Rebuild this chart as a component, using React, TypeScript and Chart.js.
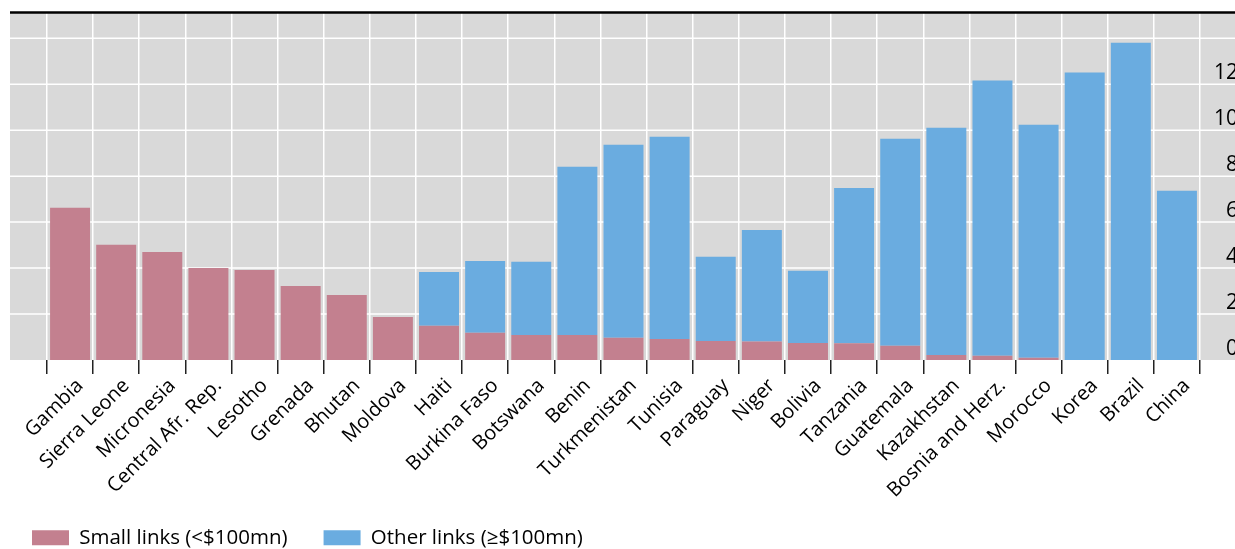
import React, { useEffect, useRef } from 'react';
import { Chart, registerables } from 'chart.js';

Chart.register(...registerables);

const categories = [
  'Gambia', 'Sierra Leone', 'Micronesia', 'Central Afr. Rep.', 'Lesotho', 'Grenada', 'Bhutan', 'Moldova',
  'Haiti', 'Burkina Faso', 'Botswana', 'Benin', 'Turkmenistan', 'Tunisia', 'Paraguay', 'Niger', 'Bolivia',
  'Tanzania', 'Guatemala', 'Kazakhstan', 'Bosnia and Herz.', 'Morocco', 'Korea', 'Brazil', 'China',
];
const smallLinks = [
  6.62, 5.01, 4.70, 4.00, 3.92, 3.22, 2.83, 1.87, 1.49, 1.19, 1.09, 1.09, 0.97, 0.91, 0.83, 0.80, 0.74,
  0.73, 0.62, 0.22, 0.19, 0.10, 0, 0, 0,
];
const otherLinks = [
  0, 0, 0, 0, 0, 0, 0, 0, 2.34, 3.12, 3.18, 7.32, 8.40, 8.81, 3.66, 4.86, 3.14,
  6.76, 9.01, 9.89, 11.97, 10.14, 12.51, 13.81, 7.36,
];
const seriesNames = ['Small links (<$100mn)', 'Other links (\u2265$100mn)'];
const yTickLabels = [0, 2, 4, 6, 8, 10, 12];
const yGridValues = [2, 4, 6, 8, 10, 12, 14];
const yMax = 15.1;

const FONT = "'Open Sans', 'Noto Sans', sans-serif";
const CANVAS_W = 1242;
const CANVAS_H = 558;
const BG_LEFT = 14;

const bgPlugin = {
  id: 'bgPlugin',
  beforeDraw(chart: any) {
    const { ctx, chartArea, scales } = chart;
    const y = scales.y;
    ctx.save();
    ctx.fillStyle = '#d9d9d9';
    ctx.fillRect(BG_LEFT, chartArea.top, chart.width - BG_LEFT, chartArea.bottom - chartArea.top);
    ctx.strokeStyle = '#ffffff';
    ctx.lineWidth = 1.5;
    yGridValues.forEach((v) => {
      const py = y.getPixelForValue(v);
      ctx.beginPath();
      ctx.moveTo(BG_LEFT, py);
      ctx.lineTo(chart.width, py);
      ctx.stroke();
    });
    ctx.restore();
  },
  afterDraw(chart: any) {
    const { ctx, chartArea } = chart;
    ctx.save();
    ctx.strokeStyle = '#000000';
    ctx.lineWidth = 2.5;
    ctx.beginPath();
    ctx.moveTo(BG_LEFT, chartArea.top - 0.5);
    ctx.lineTo(chart.width, chartArea.top - 0.5);
    ctx.stroke();
    ctx.restore();
  },
};

export default function App() {
  const ref = useRef<HTMLCanvasElement | null>(null);

  useEffect(() => {
    if (!ref.current) return;
    const chart = new Chart(ref.current, {
      type: 'bar',
      data: {
        labels: categories,
        datasets: [
          {
            label: seriesNames[0],
            data: smallLinks,
            backgroundColor: '#c3808f',
            borderWidth: 0,
            barPercentage: 0.867,
            categoryPercentage: 1,
            stack: 's',
          },
          {
            label: seriesNames[1],
            data: otherLinks,
            backgroundColor: '#6aace0',
            borderWidth: 0,
            barPercentage: 0.867,
            categoryPercentage: 1,
            stack: 's',
          },
        ],
      },
      options: {
        responsive: false,
        animation: false,
        devicePixelRatio: 1,
        layout: { padding: { top: 13, left: 0, right: 0, bottom: 0 } },
        plugins: {
          tooltip: { enabled: false },
          title: { display: false },
          legend: {
            display: true,
            position: 'bottom',
            align: 'start',
            labels: {
              boxWidth: 37,
              boxHeight: 15,
              padding: 36,
              color: '#000',
              font: { family: FONT, size: 20.5 },
            },
          },
        },
        scales: {
          x: {
            stacked: true,
            offset: true,
            grid: {
              display: true,
              offset: true,
              color: '#ffffff',
              lineWidth: 1.5,
              drawOnChartArea: true,
              drawTicks: true,
              tickLength: 14,
              tickColor: '#222',
              tickWidth: 1.5,
            },
            border: { display: false },
            ticks: {
              autoSkip: false,
              minRotation: 45,
              maxRotation: 45,
              padding: 0,
              labelOffset: 10,
              color: '#000',
              font: { family: FONT, size: 20 },
            },
            afterFit: (s: any) => {
              s.height = 131.5;
              s._computeLabelArea = () => undefined;
            },
          },
          y: {
            stacked: true,
            position: 'right',
            min: 0,
            max: yMax,
            grid: { display: false, drawTicks: false },
            border: { display: false },
            ticks: {
              stepSize: 2,
              crossAlign: 'far',
              padding: 14,
              labelOffset: -11,
              color: '#000',
              font: { family: FONT, size: 21 },
              callback: (v: any) => (yTickLabels.includes(Number(v)) ? String(v) : ''),
            },
            afterFit: (s: any) => {
              s.width = 38;
              s.paddingTop = 0;
              s.paddingBottom = 0;
            },
          },
          yL: {
            position: 'left',
            display: true,
            grid: { display: false, drawTicks: false },
            border: { display: false },
            ticks: { display: false },
            afterFit: (s: any) => {
              s.width = 51;
              s.paddingTop = 0;
              s.paddingBottom = 0;
            },
          },
        },
      },
      plugins: [bgPlugin],
    } as any);
    return () => chart.destroy();
  }, []);

  return (
    <div
      style={{
        position: 'fixed',
        left: 0,
        top: 0,
        width: 1235,
        height: 549,
        overflow: 'hidden',
        background: '#fff',
      }}
    >
      <canvas
        ref={ref}
        width={CANVAS_W}
        height={CANVAS_H}
        style={{ position: 'absolute', left: -4, top: 0, width: CANVAS_W, height: CANVAS_H }}
      />
    </div>
  );
}
